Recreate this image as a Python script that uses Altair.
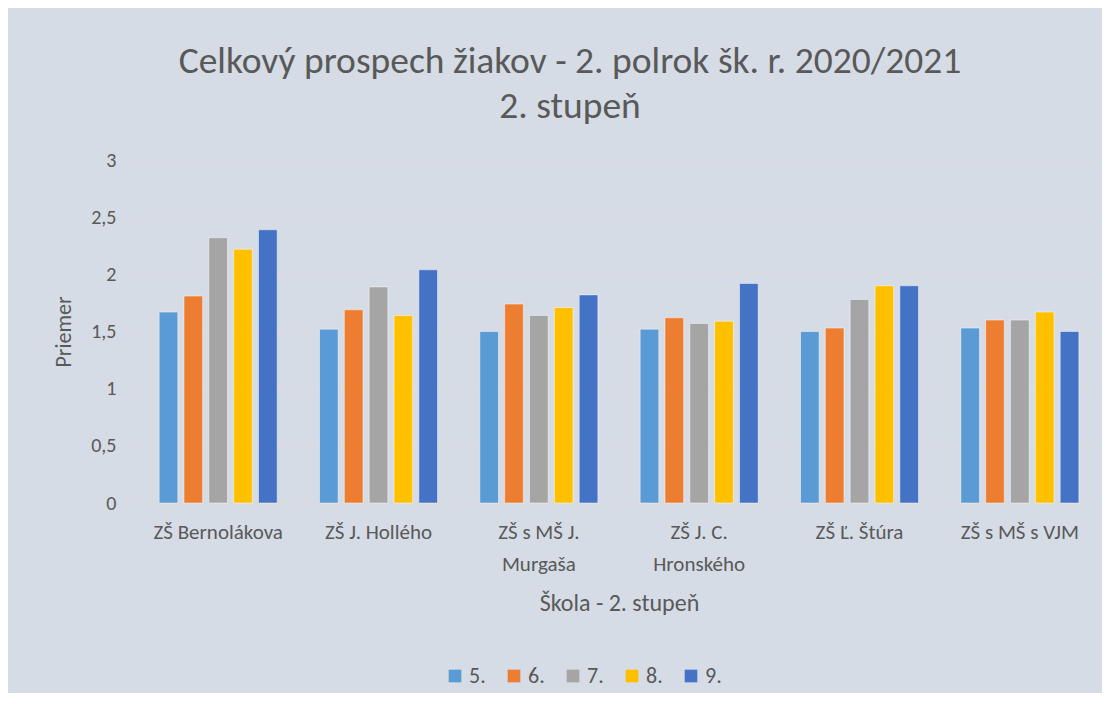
import altair as alt
import pandas as pd

schools = ["ZŠ Bernolákova", "ZŠ J. Hollého", "ZŠ s MŠ J. Murgaša",
           "ZŠ J. C. Hronského", "ZŠ Ľ. Štúra", "ZŠ s MŠ s VJM"]
grades = ["5.", "6.", "7.", "8.", "9."]
colors = ["#5b9bd5", "#ed7d31", "#a5a5a5", "#ffc000", "#4472c4"]

g5 = [1.67, 1.52, 1.50, 1.52, 1.50, 1.53]
g6 = [1.81, 1.69, 1.74, 1.62, 1.53, 1.60]
g7 = [2.32, 1.89, 1.64, 1.57, 1.78, 1.60]
g8 = [2.22, 1.64, 1.71, 1.59, 1.90, 1.67]
g9 = [2.39, 2.04, 1.82, 1.92, 1.90, 1.50]

series = [g5, g6, g7, g8, g9]
rows = []
for grade, vals in zip(grades, series):
    for school, v in zip(schools, vals):
        rows.append({"Škola": school, "Ročník": grade, "Priemer": v})
df = pd.DataFrame(rows)

FONT = "Carlito, Calibri, Liberation Sans"
TXT = "#595959"

label_expr = (
    "datum.value == 'ZŠ s MŠ J. Murgaša' ? ['ZŠ s MŠ J.', 'Murgaša'] : "
    "datum.value == 'ZŠ J. C. Hronského' ? ['ZŠ J. C.', 'Hronského'] : datum.label"
)

chart = alt.Chart(df).mark_bar(
    stroke="#ffffff", strokeOpacity=0.45, strokeWidth=1
).encode(
    x=alt.X("Škola:N", sort=schools,
            scale=alt.Scale(paddingInner=0.264, paddingOuter=0.132),
            axis=alt.Axis(title="Škola - 2. stupeň", labelAngle=0,
                          labelExpr=label_expr, labelLineHeight=32,
                          labelFontSize=21, labelPadding=18,
                          titleFontSize=24, titlePadding=17,
                          titleFontWeight="normal",
                          ticks=False, domain=True, domainColor="#dcd9d9",
                          labelColor=TXT, titleColor=TXT, labelFont=FONT,
                          titleFont=FONT, labelBaseline="top")),
    xOffset=alt.XOffset("Ročník:N", sort=grades,
                        scale=alt.Scale(paddingInner=0.25, paddingOuter=0.0)),
    y=alt.Y("Priemer:Q",
            scale=alt.Scale(domain=[0, 3], nice=False),
            axis=alt.Axis(values=[0, 0.5, 1, 1.5, 2, 2.5, 3],
                          labelExpr="replace(format(datum.value, '~g'), '.', ',')",
                          title="Priemer", titleFontSize=22,
                          titleFontWeight="normal", titlePadding=15,
                          labelFontSize=20, labelPadding=22,
                          ticks=False, domain=False,
                          gridColor="#e0dcdc", gridWidth=1.2,
                          labelColor=TXT, titleColor=TXT, labelFont=FONT,
                          titleFont=FONT)),
    color=alt.Color("Ročník:N", sort=grades,
                    scale=alt.Scale(domain=grades, range=colors),
                    legend=alt.Legend(title=None, orient="none",
                                      direction="horizontal",
                                      legendX=306, legendY=505,
                                      symbolType="square", symbolSize=160,
                                      symbolStrokeWidth=0,
                                      labelFontSize=22, labelColor=TXT,
                                      labelFont=FONT, labelOffset=3,
                                      columnPadding=17, padding=0)),
).properties(
    width=962,
    height=343,
    title=alt.TitleParams(
        text=["Celkový prospech žiakov - 2. polrok šk. r. 2020/2021", "2. stupeň"],
        fontSize=37.5, font=FONT, color=TXT, fontWeight="normal",
        anchor="middle", dx=-49, offset=25, lineHeight=45,
    ),
    autosize=alt.AutoSizeParams(type="none"),
    padding={"left": 130, "top": 152, "right": 2, "bottom": 190},
).configure(
    background="#d6dce5",
).configure_view(
    stroke=None,
)

chart.save("out.html", embed_options={"renderer": "svg", "actions": False})
